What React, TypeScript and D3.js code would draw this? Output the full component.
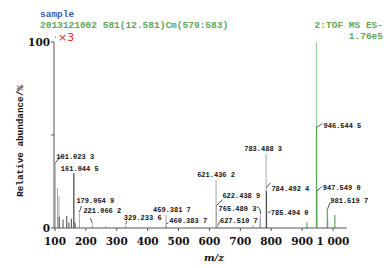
import React from "react";
import * as d3 from "d3";

// ---- data ----
const xTicks = [100, 200, 300, 400, 500, 600, 700, 800, 900, 1000];
const xTickLabels = ["100", "200", "300", "400", "500", "600", "700", "800", "900", "1 000"];
const yTicks = [0, 50, 100];
const yTickLabels = ["0", "", "100"];

// light grey (outer) peaks: m/z, relative abundance %
const greyMz = [101.02, 108.0, 113.0, 161.04, 179.05, 221.07, 264.0, 329.23, 459.38, 460.38, 621.44, 622.44, 627.51, 741.0, 763.5, 765.48, 783.49, 785.49];
const greyVal = [35, 21.5, 17, 29.5, 8, 2, 1, 1.5, 7, 2, 26, 12, 1.5, 1.5, 5, 7, 40, 8];
// dark (inner) peaks
const darkMz = [113.5, 126.0, 138.0, 145.0, 153.0, 161.04, 165.0, 784.49];
const darkVal = [6, 4.5, 6.5, 3, 5, 29.5, 3, 20];
// green (magnified x3) region
const greenLightMz = [946.54];
const greenLightVal = [100];
const greenMz = [915.5, 946.54, 947.55, 981.52, 982.5, 1006.0];
const greenVal = [3, 54, 20, 10, 5, 7];

// annotations: label, m/z, value at leader start
const annLabels = ["101.023 3", "161.044 5", "179.054 9", "221.066 2", "329.233 6", "459.381 7", "460.383 7", "621.436 2", "622.438 9", "765.480 3", "627.510 7", "783.488 3", "784.492 4", "785.494 0", "946.544 5", "947.549 0", "981.519 7"];
const annMz = [101.02, 161.04, 179.05, 221.07, 329.23, 459.38, 460.38, 621.44, 622.44, 765.48, 627.51, 783.49, 784.49, 785.49, 946.54, 947.55, 981.52];
const annVal = [35, 29.5, 8, 2, 1.5, 7, 2, 26, 12, 7, 1.5, 40, 20, 8, 54, 20, 10];

// layout of annotation text (offset from peak top, px) and leader style
const annLayout: { dx: number; dy: number; anchor: string; leader: number[] | null; curve?: boolean }[] = [
  { dx: 1, dy: -4, anchor: "start", leader: [0, 0, 6, -7] },
  { dx: -13, dy: -2, anchor: "start", leader: null },
  { dx: -3, dy: -10, anchor: "start", leader: [0, -1, 2, -7] },
  { dx: -9, dy: -11, anchor: "start", leader: [0, -1, -2, -6] },
  { dx: -2, dy: -5, anchor: "start", leader: [0, -1, 1, -4] },
  { dx: -13, dy: -3, anchor: "start", leader: null },
  { dx: 3, dy: -1, anchor: "start", leader: [0, -1, 2, -1] },
  { dx: 0, dy: -3, anchor: "middle", leader: null },
  { dx: 6, dy: -8, anchor: "start", leader: [0, 0, 6, -6] },
  { dx: -42, dy: -4, anchor: "start", leader: [0, -1, -4, -8], curve: true },
  { dx: 2, dy: -2, anchor: "start", leader: [0, 0, 2, -4] },
  { dx: -3, dy: -3, anchor: "middle", leader: null },
  { dx: 5, dy: 0, anchor: "start", leader: [0, -3, 4, -8] },
  { dx: 4, dy: 2, anchor: "start", leader: [1, -1, 4, -1] },
  { dx: 7, dy: 0, anchor: "start", leader: [0, 0, 6, -4] },
  { dx: 6, dy: -1, anchor: "start", leader: [0, 0, 5, -4] },
  { dx: 3, dy: -6, anchor: "start", leader: [0, 0, 3, -7] },
];

const W = 392;
const H = 268;
const x = d3.scaleLinear().domain([100, 1000]).range([55, 333]);
const y = d3.scaleLinear().domain([0, 100]).range([228, 42]);
const X_END = 1045;

const GREEN = "#5aa85a";
const mono = "'Liberation Mono', 'DejaVu Sans Mono', monospace";
const serif = "'DejaVu Serif', serif";

export default function App() {
  const peaks = (mz: number[], val: number[], color: string, w: number, key: string) =>
    mz.map((m, i) => (
      <line key={key + i} x1={x(m)} x2={x(m)} y1={y(0)} y2={y(val[i])} stroke={color} strokeWidth={w} />
    ));

  return (
    <svg width={W} height={H} style={{ position: "absolute", left: 0, top: 0, background: "#fff" }}>
      {/* header */}
      <text x={40} y={17} fill="#3b5fb3" fontFamily={mono} fontWeight="bold" fontSize={9.5}>sample</text>
      <text x={40} y={28} fill={GREEN} fontFamily={mono} fontWeight="bold" fontSize={9.5}>2013121002 581(12.581)Cm(579:583)</text>
      <text x={383} y={28} fill={GREEN} fontFamily={mono} fontWeight="bold" fontSize={9.5} textAnchor="end">2:TOF MS ES-</text>
      <text x={383} y={39} fill={GREEN} fontFamily={mono} fontWeight="bold" fontSize={9.5} textAnchor="end">1.76e5</text>
      <circle cx={55.5} cy={37} r={0.8} fill="#888" />
      <text x={58} y={41} fill="#e8302f" fontFamily="'DejaVu Sans', sans-serif" fontSize={11}>×3</text>

      {/* peaks */}
      {peaks(greyMz, greyVal, "#a8a8a8", 1, "g")}
      {peaks(darkMz, darkVal, "#444", 1, "d")}
      {peaks(greenLightMz, greenLightVal, "#9fd19f", 1.2, "gl")}
      {peaks(greenMz, greenVal, GREEN, 1.2, "gr")}

      {/* axes */}
      <line x1={x(100) - 1} x2={x(100) - 1} y1={y(100)} y2={y(0)} stroke="#555" strokeWidth={1} />
      <line x1={x(100) - 1} x2={x(X_END)} y1={y(0)} y2={y(0)} stroke="#555" strokeWidth={1} />
      {yTicks.map((t, i) => (
        <g key={"yt" + i}>
          <line x1={x(100) - 4} x2={x(100) - 1} y1={y(t)} y2={y(t)} stroke="#555" />
          <text x={x(100) - 5} y={y(t) + 4} textAnchor="end" fontFamily={serif} fontWeight="bold" fontSize={10.5} fill="#111">{yTickLabels[i]}</text>
        </g>
      ))}
      {xTicks.map((t, i) => (
        <g key={"xt" + i}>
          <line x1={x(t)} x2={x(t)} y1={y(0)} y2={y(0) + 3} stroke="#555" />
          <text x={x(t)} y={y(0) + 17} textAnchor="middle" fontFamily={serif} fontWeight="bold" fontSize={10.5} fill="#111">{xTickLabels[i]}</text>
        </g>
      ))}
      <text x={214} y={261} textAnchor="middle" fontFamily={serif} fontStyle="italic" fontWeight="bold" fontSize={10} fill="#111">m/z</text>
      <text transform="translate(23,141) rotate(-90)" textAnchor="middle" fontFamily={mono} fontWeight="bold" fontSize={9.3} fill="#111">Relative abundance/%</text>

      {/* annotations */}
      {annLabels.map((lab, i) => {
        const px = x(annMz[i]);
        const py = y(annVal[i]);
        const L = annLayout[i];
        const ld = L.leader;
        return (
          <g key={"a" + i}>
            {ld && !L.curve && <line x1={px + ld[0]} y1={py + ld[1]} x2={px + ld[2]} y2={py + ld[3]} stroke="#222" strokeWidth={0.8} />}
            {ld && L.curve && (
              <path
                d={`M${px + ld[0]},${py + ld[1]} Q${px + ld[0]},${py + ld[3]} ${px + ld[2]},${py + ld[3]}`}
                fill="none"
                stroke="#222"
                strokeWidth={0.8}
              />
            )}
            <text x={px + L.dx} y={py + L.dy} textAnchor={L.anchor} fontFamily={mono} fontWeight="bold" fontSize={7} fill="#111">{lab}</text>
          </g>
        );
      })}
    </svg>
  );
}
